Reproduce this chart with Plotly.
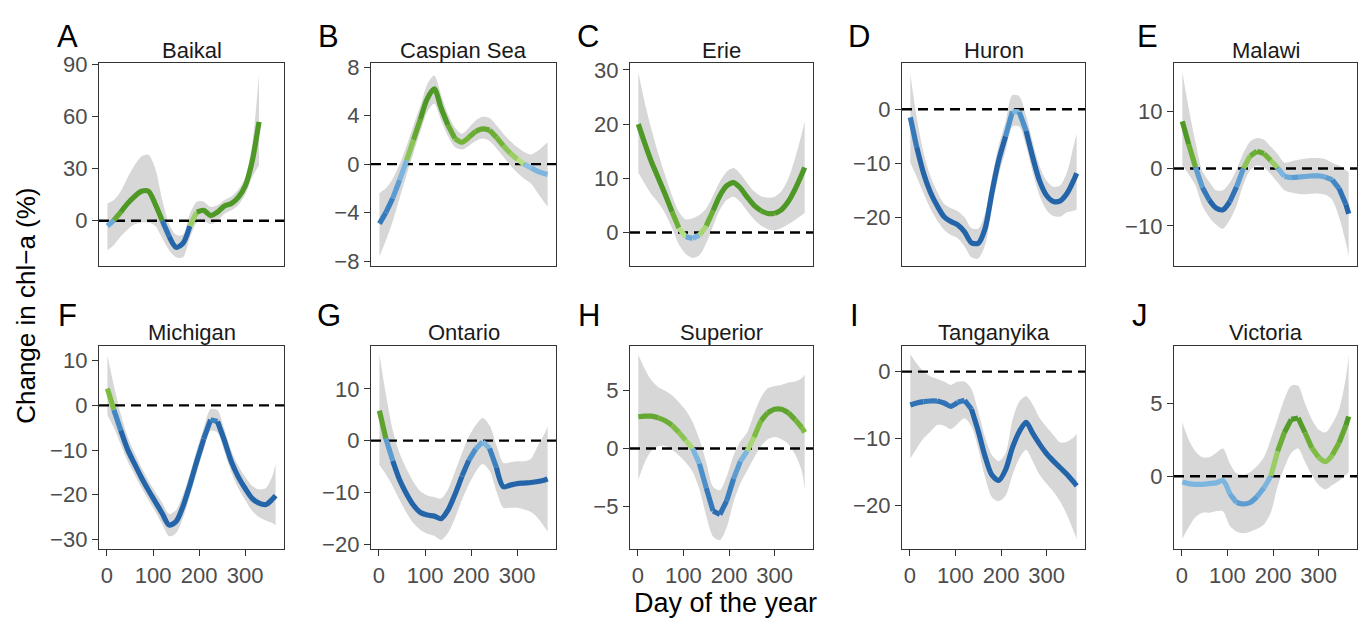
import plotly.graph_objects as go

# ---------------- data ----------------
DAYS = [1, 15, 30, 45, 60, 75, 90, 105, 120, 135, 150, 165, 180, 195, 210,
        225, 240, 255, 270, 285, 300, 315, 330, 345, 360, 366]
BAIKAL_DAYS = [1, 15, 30, 45, 60, 75, 90, 105, 120, 135, 150, 165, 180, 195,
               210, 225, 240, 255, 270, 285, 300, 315, 330]

X_TICKS = [0, 100, 200, 300]
X_RANGE = [-17.25, 384.25]

LAKE_NAMES = ["Baikal", "Caspian Sea", "Erie", "Huron", "Malawi",
              "Michigan", "Ontario", "Superior", "Tanganyika", "Victoria"]
PANEL_TAGS = ["A", "B", "C", "D", "E", "F", "G", "H", "I", "J"]

BAIKAL = [-3, 0.3, 5, 10, 14, 17, 17, 9.5, 0, -9, -15.3, -13, -3, 5, 6, 3, 5,
          8.5, 10, 13.5, 20, 34, 57]
BAIKAL_LO = [-17, -14, -9, -5, -2, -1, -1, -3, -10, -17, -21, -21, -10, -1, 0,
             -2, 0, 4, 6, 9, 15, 25, 32]
BAIKAL_HI = [10, 12, 17, 25, 32, 37, 38, 30, 12, -2, -8, -8, 4, 11, 11, 8, 9,
             12, 14, 18, 25, 44, 84]

CASPIAN = [-4.9, -4.0, -2.8, -1.3, 0.3, 2.0, 3.7, 5.4, 6.2, 4.6, 3.2, 2.1, 1.8,
           2.2, 2.7, 2.9, 2.8, 2.2, 1.5, 0.9, 0.4, 0.0, -0.3, -0.6, -0.8, -0.85]
CASPIAN_LO = [-7.6, -6.3, -4.7, -2.8, -0.9, 0.9, 2.7, 4.3, 5.0, 3.6, 2.3, 1.4,
              1.2, 1.5, 1.9, 2.1, 1.9, 1.3, 0.6, -0.1, -0.7, -1.2, -1.6, -2.4,
              -3.2, -3.5]
CASPIAN_HI = [-2.4, -2.0, -1.2, 0.0, 1.5, 3.2, 4.8, 6.6, 7.3, 5.7, 4.1, 3.0,
              2.5, 3.0, 3.6, 3.9, 3.8, 3.2, 2.5, 1.9, 1.4, 1.0, 0.8, 1.1, 1.6,
              1.8]

ERIE = [20.0, 16.5, 13.0, 10.0, 7.0, 3.8, 0.8, -0.8, -1.1, -0.5, 1.2, 4.0, 6.8,
        8.6, 9.2, 8.2, 6.5, 5.0, 4.0, 3.5, 3.5, 4.2, 5.7, 8.0, 10.8, 12.0]
ERIE_LO = [11.0, 9.0, 7.0, 5.5, 3.5, 0.8, -2.2, -4.0, -4.7, -4.2, -2.0, 1.2,
           4.2, 6.0, 6.6, 5.6, 3.9, 2.4, 1.3, 0.6, 0.4, 0.8, 1.5, 2.3, 3.2, 3.6]
ERIE_HI = [29.5, 24.0, 19.0, 14.5, 10.5, 6.8, 3.8, 2.4, 2.6, 3.2, 4.4, 6.8, 9.4,
           11.2, 11.9, 10.8, 9.1, 7.6, 6.7, 6.4, 6.6, 7.6, 9.9, 13.7, 18.4,
           20.5]

HURON = [-1.5, -7.0, -11.8, -15.3, -17.8, -19.8, -20.7, -21.3, -22.6, -24.6,
         -24.7, -22.0, -15.4, -9.4, -5.0, -0.4, -0.5, -4.0, -9.0, -13.3, -15.9,
         -17.0, -16.9, -15.5, -13.0, -11.8]
HURON_LO = [-9.8, -12.5, -15.5, -18.3, -20.5, -22.2, -23.2, -23.8, -25.3, -27.3,
            -27.5, -25.0, -18.2, -12.1, -7.7, -3.2, -3.2, -6.8, -11.8, -16.0,
            -18.6, -19.7, -19.8, -19.0, -18.7, -18.5]
HURON_HI = [6.5, -1.5, -8.0, -12.3, -15.2, -17.4, -18.2, -18.8, -19.9, -21.9,
            -22.0, -19.2, -12.6, -6.7, -2.3, 2.6, 2.4, -1.2, -6.2, -10.6, -13.2,
            -14.3, -14.0, -11.5, -6.5, -4.5]

MALAWI = [8.2, 4.2, 0.2, -3.3, -5.5, -6.9, -7.2, -5.8, -3.2, 0.0, 2.2, 3.0, 2.6,
          1.4, 0.1, -1.4, -1.6, -1.5, -1.4, -1.3, -1.3, -1.5, -2.0, -3.5, -6.3,
          -7.9]
MALAWI_LO = [0.5, -1.0, -3.0, -6.5, -8.5, -9.8, -10.5, -9.0, -6.5, -2.8, -0.3,
             0.5, 0.2, -1.0, -2.4, -3.8, -4.2, -4.4, -4.5, -4.4, -4.4, -4.6,
             -5.5, -8.5, -13.0, -15.3]
MALAWI_HI = [16.8, 10.5, 4.5, -0.5, -2.3, -3.8, -3.8, -2.5, -0.2, 2.7, 4.7, 5.3,
             5.0, 3.8, 2.5, 1.0, 1.2, 1.5, 1.7, 1.8, 1.8, 1.6, 1.0, 0.5, -0.3,
             -0.7]

MICHIGAN = [3.8, -1.0, -5.6, -9.9, -13.1, -16.2, -19.0, -21.6, -24.2, -26.8,
            -26.0, -22.6, -17.8, -12.5, -7.5, -3.2, -3.6, -7.9, -12.6, -16.0,
            -18.6, -20.8, -21.9, -22.2, -20.9, -20.2]
MICHIGAN_LO = [-2.2, -5.0, -8.8, -12.5, -15.5, -18.5, -21.2, -23.8, -26.6,
               -29.3, -28.6, -25.2, -20.3, -15.0, -10.0, -5.7, -6.1, -10.4,
               -15.0, -18.5, -21.2, -23.6, -25.0, -25.8, -26.4, -26.8]
MICHIGAN_HI = [11.2, 4.5, -2.0, -7.0, -10.6, -13.9, -16.8, -19.4, -21.8, -24.3,
               -23.4, -20.0, -15.3, -10.0, -5.0, -0.8, -1.1, -5.4, -10.2, -13.5,
               -16.0, -18.0, -18.8, -18.5, -15.5, -13.2]

ONTARIO = [5.8, 0.4, -3.9, -7.6, -10.3, -12.5, -13.9, -14.4, -14.6, -15.1,
           -13.4, -10.4, -6.9, -3.8, -1.6, -0.2, -1.5, -5.2, -8.9, -8.6, -8.3,
           -8.2, -8.1, -7.9, -7.6, -7.4]
ONTARIO_LO = [-4.7, -6.5, -8.8, -11.5, -14.0, -16.0, -17.3, -18.0, -18.4, -19.2,
              -17.8, -15.0, -11.5, -8.5, -6.0, -4.5, -5.8, -9.8, -13.0, -13.0,
              -13.0, -13.3, -13.8, -15.0, -16.8, -17.6]
ONTARIO_HI = [16.7, 9.0, 2.0, -2.5, -5.5, -8.0, -9.8, -10.6, -10.9, -11.2, -9.4,
              -6.0, -2.5, 0.8, 3.0, 4.4, 3.0, -0.9, -4.3, -4.2, -4.0, -4.0, -3.5,
              -1.0, 1.5, 2.8]

SUPERIOR = [2.75, 2.8, 2.8, 2.65, 2.4, 2.0, 1.4, 0.7, 0.0, -1.3, -3.4, -5.4,
            -5.7, -4.5, -2.6, -1.1, -0.2, 1.0, 2.4, 3.1, 3.4, 3.4, 3.1, 2.5,
            1.8, 1.4]
SUPERIOR_LO = [-2.7, -1.2, -0.2, 0.2, 0.2, -0.1, -0.6, -1.2, -2.0, -3.5, -5.8,
               -7.6, -7.9, -6.8, -4.6, -3.0, -1.9, -0.8, 0.2, 0.8, 1.0, 0.8,
               0.4, -0.5, -2.0, -3.6]
SUPERIOR_HI = [8.1, 6.9, 5.9, 5.3, 5.0, 4.6, 4.0, 3.3, 2.3, 0.8, -1.2, -3.3,
               -3.6, -2.4, -0.6, 0.6, 1.4, 3.0, 4.4, 5.2, 5.4, 5.5, 5.7, 5.8,
               6.1, 6.4]

TANGANYIKA = [-5.0, -4.7, -4.5, -4.4, -4.4, -4.7, -5.2, -4.6, -4.3, -5.6, -8.9,
              -12.7, -15.5, -16.3, -14.7, -11.4, -9.0, -7.6, -9.3, -10.9, -12.3,
              -13.4, -14.4, -15.4, -16.6, -17.1]
TANGANYIKA_LO = [-13.0, -11.5, -10.0, -9.0, -8.0, -8.1, -8.6, -7.8, -7.0, -8.2,
                 -11.5, -15.8, -18.8, -19.4, -18.6, -15.5, -13.0, -11.7, -13.5,
                 -15.5, -16.8, -18.0, -19.5, -21.5, -24.0, -25.1]
TANGANYIKA_HI = [2.6, 1.2, 0.0, -0.7, -1.1, -1.5, -2.0, -1.5, -1.5, -2.6, -6.0,
                 -9.8, -12.5, -13.4, -12.2, -7.3, -4.5, -3.7, -5.0, -7.0, -8.3,
                 -9.5, -10.6, -10.5, -9.8, -9.3]

VICTORIA = [-0.4, -0.5, -0.55, -0.55, -0.5, -0.45, -0.3, -1.2, -1.8, -1.9,
            -1.8, -1.4, -0.8, 0.0, 1.7, 3.0, 3.9, 4.0, 3.0, 1.95, 1.3, 1.0,
            1.45, 2.3, 3.5, 4.1]
VICTORIA_LO = [-4.3, -3.5, -2.8, -2.5, -2.5, -2.4, -2.4, -3.4, -3.8, -3.9, -3.8,
               -3.6, -3.3, -2.5, -0.7, 0.6, 1.6, 1.9, 1.0, 0.1, -0.6, -0.9,
               -0.6, -0.3, 0.1, 0.3]
VICTORIA_HI = [3.7, 2.5, 1.7, 1.3, 1.3, 1.6, 1.9, 0.9, 0.2, 0.1, 0.3, 0.7, 1.3,
               2.5, 3.9, 5.3, 6.2, 6.2, 5.0, 3.9, 3.2, 3.0, 3.6, 4.6, 6.8, 8.3]

Y_TICKS = [[0, 30, 60, 90], [-8, -4, 0, 4, 8], [0, 10, 20, 30], [-20, -10, 0],
           [-10, 0, 10], [-30, -20, -10, 0, 10], [-20, -10, 0, 10], [-5, 0, 5],
           [-20, -10, 0], [0, 5]]
Y_RANGES = [[-26.1, 90.7], [-8.4, 8.3], [-6.2, 31.2], [-28.9, 8.45],
            [-17.0, 18.3], [-32.2, 13.4], [-21.0, 18.4], [-8.7, 8.9],
            [-26.6, 3.9], [-5.0, 8.96]]

SERIES = [
    (BAIKAL_DAYS, BAIKAL, BAIKAL_LO, BAIKAL_HI),
    (DAYS, CASPIAN, CASPIAN_LO, CASPIAN_HI),
    (DAYS, ERIE, ERIE_LO, ERIE_HI),
    (DAYS, HURON, HURON_LO, HURON_HI),
    (DAYS, MALAWI, MALAWI_LO, MALAWI_HI),
    (DAYS, MICHIGAN, MICHIGAN_LO, MICHIGAN_HI),
    (DAYS, ONTARIO, ONTARIO_LO, ONTARIO_HI),
    (DAYS, SUPERIOR, SUPERIOR_LO, SUPERIOR_HI),
    (DAYS, TANGANYIKA, TANGANYIKA_LO, TANGANYIKA_HI),
    (DAYS, VICTORIA, VICTORIA_LO, VICTORIA_HI),
]

# ---------------- layout geometry (pixels) ----------------
W, H = 1363, 628
COLS = [(99, 284), (371, 556), (630, 813), (902, 1085), (1174, 1357)]
ROWS = [(54, 263), (345, 555)]
TAG_POS = [(55, 26), (316, 26), (575, 26), (846, 26), (1135, 26),
           (56, 314), (315, 314), (576, 314), (848, 314), (1130, 314)]

FONT = "Liberation Sans, Arial, Helvetica, sans-serif"

GREEN = [(0.0, (182, 223, 132)), (0.45, (118, 182, 58)), (1.0, (78, 152, 38))]
BLUE = [(0.0, (140, 193, 229)), (0.45, (68, 138, 199)), (1.0, (36, 101, 170))]


def ramp(stops, t):
    for (t0, c0), (t1, c1) in zip(stops[:-1], stops[1:]):
        if t <= t1:
            f = (t - t0) / (t1 - t0)
            return tuple(round(a + (b - a) * f) for a, b in zip(c0, c1))
    return stops[-1][1]


def colour_key(v):
    if v >= 0:
        return ("g", round(min(v / 4.0, 1.0) * 10))
    return ("b", round(min(-v / 6.0, 1.0) * 10))


def key_colour(key):
    stops = GREEN if key[0] == "g" else BLUE
    c = ramp(stops, key[1] / 10.0)
    return "rgb(%d,%d,%d)" % c


def px_x(p):
    return p / W


def px_y(p):
    return 1 - p / H


fig = go.Figure()
annotations = []

for i, (days, vals, lo, hi) in enumerate(SERIES):
    n = i + 1
    sfx = "" if n == 1 else str(n)
    xa, ya = "x" + sfx, "y" + sfx
    row, col = divmod(i, 5)

    # confidence ribbon
    fig.add_trace(go.Scatter(x=days, y=lo, mode="lines",
                             line=dict(width=0, shape="spline", smoothing=0.8),
                             hoverinfo="skip", showlegend=False,
                             xaxis=xa, yaxis=ya))
    fig.add_trace(go.Scatter(x=days, y=hi, mode="lines", fill="tonexty",
                             fillcolor="rgb(215,215,215)",
                             line=dict(width=0, shape="spline", smoothing=0.8),
                             hoverinfo="skip", showlegend=False,
                             xaxis=xa, yaxis=ya))
    # zero reference line
    fig.add_trace(go.Scatter(x=X_RANGE, y=[0, 0], mode="lines",
                             line=dict(color="black", width=2.4,
                                       dash="10px,6px"),
                             hoverinfo="skip", showlegend=False,
                             xaxis=xa, yaxis=ya))
    # colour-coded fitted line: runs of segments that share a colour
    runs = []
    for j in range(len(days) - 1):
        k = colour_key((vals[j] + vals[j + 1]) / 2.0)
        if runs and runs[-1][0] == k:
            runs[-1][1].append(j + 1)
        else:
            runs.append([k, [j, j + 1]])
    for k, idxs in runs:
        fig.add_trace(go.Scatter(
            x=[days[t] for t in idxs], y=[vals[t] for t in idxs],
            mode="lines",
            line=dict(color=key_colour(k), width=5.2, shape="spline",
                      smoothing=0.8),
            showlegend=False, xaxis=xa, yaxis=ya,
            hovertemplate=LAKE_NAMES[i] + "<br>day %{x}: %{y}%<extra></extra>"))

    x0, x1 = COLS[col]
    y0, y1 = ROWS[row]
    bottom = row == 1
    fig.layout["xaxis" + sfx] = dict(
        domain=[px_x(x0), px_x(x1)], anchor=ya, range=X_RANGE,
        tickvals=X_TICKS, showticklabels=bottom,
        ticks="outside" if bottom else "", ticklen=6, tickwidth=1.3,
        tickcolor="#333333",
        tickfont=dict(family=FONT, size=22, color="#4d4d4d"),
        showline=True, mirror=True, linecolor="#333333", linewidth=1.3,
        showgrid=False, zeroline=False, fixedrange=True)
    fig.layout["yaxis" + sfx] = dict(
        domain=[px_y(y1), px_y(y0)], anchor=xa, range=Y_RANGES[i],
        tickvals=Y_TICKS[i], ticks="outside", ticklen=6, tickwidth=1.3,
        tickcolor="#333333",
        tickfont=dict(family=FONT, size=22, color="#4d4d4d"),
        showline=True, mirror=True, linecolor="#333333", linewidth=1.3,
        showgrid=False, zeroline=False, fixedrange=True)

    # strip title
    annotations.append(dict(
        text=LAKE_NAMES[i], xref="paper", yref="paper",
        x=px_x((x0 + x1) / 2), y=px_y(y0 - 13), xanchor="center",
        yanchor="middle", showarrow=False,
        font=dict(family=FONT, size=22, color="#1a1a1a")))
    # panel tag
    tx, ty = TAG_POS[i]
    annotations.append(dict(
        text=PANEL_TAGS[i], xref="paper", yref="paper",
        x=px_x(tx), y=px_y(ty), xanchor="left", yanchor="middle",
        showarrow=False, font=dict(family=FONT, size=31, color="black")))

annotations.append(dict(
    text="Change in chl\u2212a (%)", xref="paper", yref="paper",
    x=px_x(26), y=px_y(304), xanchor="center", yanchor="middle",
    textangle=-90, showarrow=False,
    font=dict(family=FONT, size=26, color="black")))
annotations.append(dict(
    text="Day of the year", xref="paper", yref="paper",
    x=px_x(726), y=px_y(610), xanchor="center", yanchor="middle",
    showarrow=False, font=dict(family=FONT, size=27, color="black")))

fig.update_layout(
    width=W, height=H, autosize=False,
    margin=dict(l=0, r=0, t=0, b=0),
    paper_bgcolor="white", plot_bgcolor="white",
    annotations=annotations, showlegend=False,
    font=dict(family=FONT))

fig.write_html("out.html",
               config={"displayModeBar": False},
               post_script="document.body.style.margin='0';"
                           "document.body.style.overflow='hidden';")
